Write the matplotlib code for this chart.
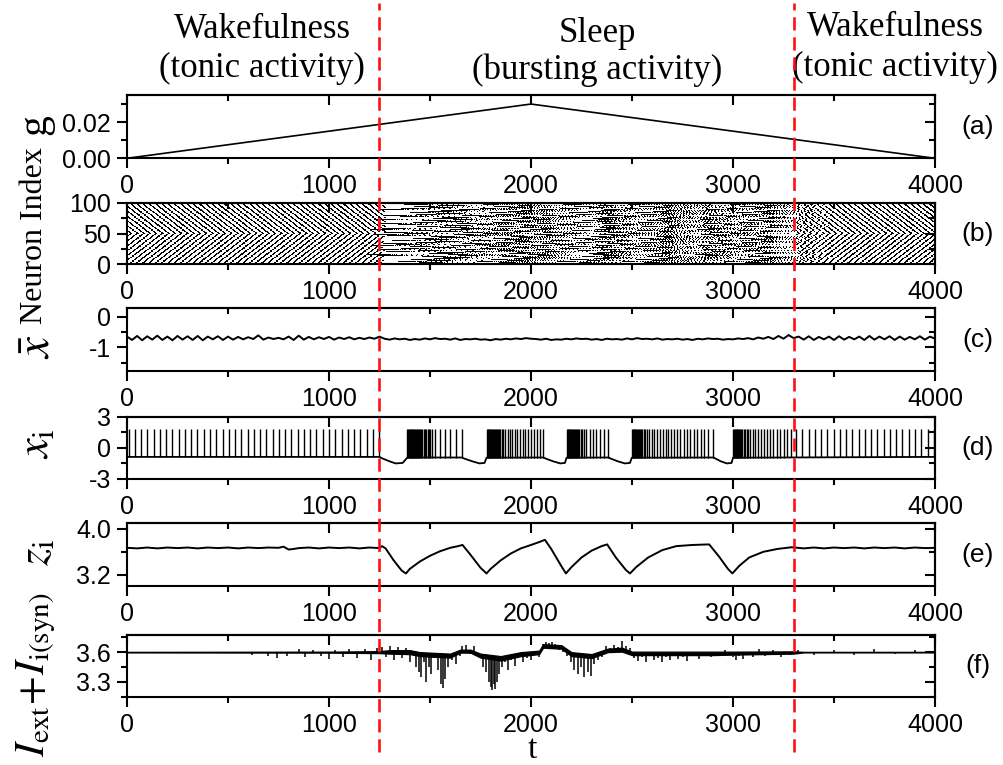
import numpy as np
import matplotlib.pyplot as plt
import matplotlib.transforms as mtransforms
from matplotlib.lines import Line2D
from matplotlib.ticker import MultipleLocator, FormatStrFormatter, NullFormatter

plt.rcParams['font.family'] = ['Liberation Sans', 'DejaVu Sans']
plt.rcParams['mathtext.fontset'] = 'stix'

# ---------------- data ----------------
t_wake_end, t_sleep_end = 1250, 3300

# (a) coupling g
g_t = [0, 2000, 4000]
g_v = [0.0, 0.03, 0.0]

# (d) spike times of neuron i
tonic_early = [-23, 8, 39, 70, 101, 132, 163, 194, 225, 256, 287, 318, 349, 380, 411, 442,
               473, 504, 535, 566, 597, 628, 659, 690, 721, 752, 783, 814, 845, 876, 907,
               938, 969, 1000, 1031, 1062, 1093, 1124, 1155, 1186, 1217, 1246]
burst1 = [1388, 1392, 1396, 1400, 1404, 1408, 1412, 1416, 1420, 1425, 1430, 1435, 1440, 1445,
          1450, 1456, 1462, 1468, 1474, 1481, 1488, 1495, 1502, 1512, 1525, 1550, 1574, 1599,
          1629, 1657]
burst2 = [1782, 1786, 1790, 1794, 1798, 1802, 1806, 1810, 1815, 1820, 1825, 1830, 1836, 1842,
          1848, 1855, 1862, 1872, 1884, 1896, 1908, 1920, 1933, 1946, 1959, 1972, 1986, 2000,
          2015, 2030, 2045, 2060]
burst3 = [2178, 2182, 2186, 2190, 2194, 2198, 2202, 2207, 2212, 2217, 2222, 2228, 2234, 2240,
          2247, 2254, 2262, 2274, 2290, 2305, 2322, 2340, 2360, 2381]
burst4 = [2500, 2504, 2508, 2512, 2516, 2520, 2524, 2529, 2534, 2539, 2545, 2551, 2558, 2565,
          2573, 2585, 2598, 2611, 2624, 2638, 2652, 2666, 2680, 2695, 2710, 2725, 2740, 2756,
          2772, 2788, 2805, 2822, 2840, 2858, 2877, 2900]
burst5 = [3002, 3006, 3010, 3014, 3018, 3022, 3026, 3031, 3036, 3041, 3047, 3053, 3060, 3068,
          3076, 3085, 3097, 3110, 3124, 3138, 3153, 3168, 3184, 3200, 3216, 3233, 3250, 3268,
          3286]
tonic_late = [3312, 3343, 3374, 3405, 3436, 3467, 3498, 3529, 3560, 3591, 3622, 3653, 3684,
              3715, 3746, 3777, 3808, 3839, 3870, 3901, 3932, 3963, 3994, 4025]
spike_peak = 1.8
# trough / hyperpolarisation level of x_i
xi_base_t = [0, 1250, 1262, 1300, 1330, 1365, 1387, 1500, 1657, 1672, 1710, 1745, 1770, 1780,
             2061, 2075, 2110, 2145, 2168, 2176, 2383, 2397, 2430, 2465, 2490, 2499, 2903,
             2915, 2940, 2970, 2993, 3000, 4000]
xi_base_v = [-0.87, -0.87, -1.0, -1.3, -1.5, -1.45, -0.95, -0.93, -0.93, -1.05, -1.3, -1.5,
             -1.45, -0.95, -0.93, -1.05, -1.3, -1.5, -1.45, -0.95, -0.93, -1.05, -1.3, -1.5,
             -1.45, -0.95, -0.93, -1.05, -1.3, -1.5, -1.45, -0.95, -0.87]

# (b) raster: phase of each neuron in tonic state, lag of each neuron in bursting state
wake_phase = [0, 4, 9, 12, 17, 20, 24, 27, 1, 6, 9, 13, 18, 21, 24, 29, 3, 6, 10, 15,
              18, 22, 27, 30, 3, 8, 11, 15, 20, 23, 26, 0, 5, 8, 12, 17, 20, 23, 28, 1,
              5, 10, 13, 16, 21, 25, 28, 2, 7, 10, 6, 1, 29, 24, 21, 18, 13, 9, 6, 1,
              27, 24, 21, 16, 11, 8, 5, 0, 27, 22, 19, 16, 11, 6, 3, 30, 27, 22, 18, 15,
              10, 7, 2, 28, 25, 22, 17, 12, 9, 5, 2, 28, 23, 20, 17, 12, 8, 3, 0, 27]
sleep_lag = [0, -130, 60, 165, -45, 100, -165, 20, 135, -85,
             180, -20, 75, -140, 40, -190, 110, -70, 150, -10,
             -105, 55, 190, -150, 85, -30, 125, -90, 15, -175,
             105, -55, 170, -120, 45, -195, 140, -75, 5, 90,
             -135, 30, 160, -40, 120, -100, 65, -160, 195, -15,
             -115, 60, 135, -60, 25, -180, 95, -125, 165, -5,
             50, -85, 185, -45, 120, -145, 30, -105, 150, -25,
             75, -165, 10, 130, -70, 175, -35, 90, -120, 45,
             -185, 145, -90, 15, 105, -50, 170, -135, 65, -30,
             -150, 110, 35, -75, 155, -15, 80, -170, 0, 135]

# (c) mean field x-bar, sampled every 25 time units
xbar_vals = [-0.65, -0.76, -0.63, -0.77, -0.64, -0.75, -0.62, -0.76, -0.65, -0.77,
             -0.63, -0.75, -0.64, -0.76, -0.63, -0.77, -0.65, -0.74, -0.64, -0.76,
             -0.65, -0.75, -0.66, -0.74, -0.67, -0.73, -0.61, -0.75, -0.68, -0.73,
             -0.69, -0.74, -0.65, -0.76, -0.62, -0.75, -0.66, -0.74, -0.67, -0.73,
             -0.66, -0.75, -0.68, -0.73, -0.67, -0.74, -0.69, -0.73, -0.68, -0.72, -0.65,
             -0.72, -0.75, -0.71, -0.74, -0.72, -0.76, -0.73, -0.75, -0.71, -0.74,
             -0.70, -0.73, -0.72, -0.75, -0.71, -0.76, -0.73, -0.74, -0.72, -0.75,
             -0.74, -0.77, -0.73, -0.75, -0.72, -0.74, -0.71, -0.73, -0.70, -0.72,
             -0.73, -0.75, -0.72, -0.76, -0.74, -0.75, -0.72, -0.74, -0.71, -0.73,
             -0.72, -0.75, -0.73, -0.76, -0.72, -0.74, -0.73, -0.75, -0.71, -0.74,
             -0.70, -0.73, -0.72, -0.74, -0.71, -0.75, -0.73, -0.74, -0.72, -0.75,
             -0.73, -0.76, -0.72, -0.74, -0.71, -0.73, -0.72, -0.75, -0.73, -0.74,
             -0.71, -0.73, -0.70, -0.74, -0.68, -0.72, -0.66, -0.73, -0.63, -0.72,
             -0.60, -0.70,
             -0.65, -0.75, -0.64, -0.76, -0.66, -0.74, -0.65, -0.76, -0.64, -0.75,
             -0.66, -0.74, -0.65, -0.76, -0.63, -0.75, -0.65, -0.74, -0.64, -0.76,
             -0.65, -0.75, -0.66, -0.74, -0.64, -0.75, -0.65, -0.72]

# (e) slow variable z_i
z_t = [0, 50, 100, 150, 200, 250, 300, 350, 400, 450, 500, 550, 600, 650, 700, 750, 775, 800,
       825, 850, 900, 950, 1000, 1050, 1100, 1150, 1200, 1250,
       1262, 1280, 1320, 1360, 1381, 1400, 1450, 1500, 1550, 1600, 1640, 1661,
       1700, 1750, 1780, 1800, 1850, 1900, 1950, 2000, 2040, 2069,
       2100, 2150, 2173, 2200, 2250, 2300, 2350, 2377,
       2420, 2470, 2490, 2520, 2580, 2650, 2720, 2800, 2882,
       2930, 2975, 2997, 3030, 3080, 3150, 3220, 3290,
       3350, 3400, 3450, 3500, 3550, 3600, 3650, 3700, 3750, 3800, 3850, 3900, 3950, 4000]
z_v = [3.67, 3.66, 3.675, 3.66, 3.675, 3.665, 3.675, 3.66, 3.675, 3.665, 3.675, 3.66, 3.675,
       3.665, 3.675, 3.67, 3.69, 3.64, 3.65, 3.665, 3.675, 3.66, 3.675, 3.665, 3.675, 3.66,
       3.675, 3.665,
       3.70, 3.66, 3.45, 3.27, 3.22, 3.30, 3.43, 3.53, 3.61, 3.67, 3.70, 3.72,
       3.55, 3.32, 3.22, 3.30, 3.45, 3.57, 3.66, 3.72, 3.77, 3.81,
       3.65, 3.35, 3.22, 3.33, 3.50, 3.62, 3.70, 3.73,
       3.50, 3.28, 3.22, 3.33, 3.50, 3.63, 3.70, 3.72, 3.73,
       3.52, 3.30, 3.22, 3.35, 3.50, 3.60, 3.65, 3.68,
       3.66, 3.675, 3.66, 3.675, 3.665, 3.675, 3.66, 3.675, 3.665, 3.675, 3.66, 3.675, 3.665,
       3.67]

# (f) total input current: fluctuation band plus deep excursions
f_band_t = [0, 1000, 1250, 1300, 1400, 1450, 1600, 1650, 1700, 1750, 1850, 1950,
            2040, 2060, 2150, 2200, 2300, 2380, 2450, 2500, 2900, 3000, 3300, 3350, 4000]
f_band_hi = [3.603, 3.605, 3.61, 3.62, 3.62, 3.60, 3.585, 3.625, 3.625, 3.585, 3.56, 3.60,
             3.615, 3.68, 3.67, 3.60, 3.58, 3.635, 3.645, 3.605, 3.605, 3.605, 3.608, 3.603,
             3.603]
f_band_lo = [3.597, 3.595, 3.59, 3.585, 3.58, 3.56, 3.545, 3.595, 3.595, 3.545, 3.515, 3.56,
             3.58, 3.645, 3.635, 3.56, 3.54, 3.60, 3.605, 3.57, 3.57, 3.575, 3.585, 3.597,
             3.597]
f_evt_t = [620, 700, 745, 790, 850, 880, 920, 960, 1000, 1030, 1070, 1100, 1140, 1180, 1210, 1240,
           1260, 1280, 1300, 1320, 1340, 1360, 1380, 1400, 1420, 1430, 1445, 1455, 1470, 1480,
           1495, 1505, 1520, 1540, 1555, 1565, 1575, 1590, 1610, 1630, 1650, 1660, 1680, 1700,
           1720, 1740, 1760, 1775, 1790, 1800, 1808, 1815, 1822, 1830, 1840, 1855, 1870, 1885,
           1900, 1920, 1940, 1960, 1980, 2000, 2020, 2040, 2060, 2075, 2090, 2105, 2120, 2140,
           2160, 2180, 2200, 2215, 2235, 2250, 2262, 2280, 2295, 2310, 2330, 2350, 2370, 2390,
           2410, 2430, 2450, 2470, 2490, 2510, 2530, 2550, 2570, 2590, 2610, 2630, 2650, 2670,
           2690, 2710, 2730, 2750, 2770, 2800, 2830, 2860, 2890, 2920, 2960, 3000, 3015, 3030,
           3050, 3070, 3100, 3130, 3160, 3200, 3240, 3280, 3320, 3400, 3500, 3600, 3700, 3800,
           3900]
f_evt_v = [3.57, 3.56, 3.54, 3.56, 3.63, 3.55, 3.62, 3.56, 3.53, 3.62, 3.55, 3.63, 3.54, 3.63,
           3.52, 3.64,
           3.65, 3.55, 3.66, 3.52, 3.65, 3.54, 3.64, 3.50, 3.58, 3.45, 3.40, 3.35, 3.50, 3.30,
           3.45, 3.38, 3.55, 3.42, 3.28, 3.24, 3.33, 3.45, 3.52, 3.48, 3.56, 3.66, 3.67, 3.58,
           3.66, 3.55, 3.45, 3.40, 3.30, 3.25, 3.22, 3.28, 3.23, 3.30, 3.38, 3.45, 3.50, 3.42,
           3.52, 3.46, 3.55, 3.50, 3.54, 3.52, 3.57, 3.55, 3.68, 3.70, 3.69, 3.70, 3.68, 3.62,
           3.60, 3.56, 3.50, 3.42, 3.38, 3.45, 3.35, 3.40, 3.36, 3.48, 3.52, 3.55, 3.66, 3.64,
           3.67, 3.65, 3.71, 3.66, 3.64, 3.54, 3.51, 3.55, 3.50, 3.56, 3.52, 3.54, 3.50, 3.55,
           3.52, 3.56, 3.53, 3.55, 3.51, 3.56, 3.53, 3.57, 3.55, 3.58, 3.62, 3.55, 3.52, 3.56,
           3.53, 3.57, 3.55, 3.63, 3.56, 3.62, 3.55, 3.57, 3.62, 3.57, 3.62, 3.57, 3.63, 3.58,
           3.62]

panel_tags = ['(a)', '(b)', '(c)', '(d)', '(e)', '(f)']

# ---------------- figure ----------------
W, H = 1004., 765.
fig = plt.figure(figsize=(W / 100, H / 100), dpi=100)

boxes = [(95, 158.3), (203, 264.3), (308.3, 370.7), (416.7, 479), (523.3, 586), (635.3, 696.7)]
axes = [fig.add_axes([127 / W, 1 - bot / H, 808 / W, (bot - top) / H]) for top, bot in boxes]

xt = [0, 1000, 2000, 3000, 4000]


def style(ax, ymaj, ymin, ylim, fmt):
    ax.set_xlim(0, 4000)
    ax.set_ylim(*ylim)
    ax.set_xticks(xt)
    ax.xaxis.set_minor_locator(MultipleLocator(500))
    ax.set_yticks(ymaj)
    ax.set_yticks(ymin, minor=True)
    ax.yaxis.set_major_formatter(FormatStrFormatter(fmt))
    ax.tick_params(which='both', direction='out', top=False, right=False,
                   labelsize=18, width=1.5, pad=4)
    ax.tick_params(which='major', length=7.5)
    ax.tick_params(which='minor', length=4)
    for s in ax.spines.values():
        s.set_linewidth(1.5)
    # mirrored ticks pointing inward on top and right
    sx = ax.secondary_xaxis('top')
    sx.set_xticks(xt)
    sx.xaxis.set_minor_locator(MultipleLocator(500))
    sx.xaxis.set_major_formatter(NullFormatter())
    sx.tick_params(which='both', direction='in', width=1.5)
    sx.tick_params(which='major', length=7.5)
    sx.tick_params(which='minor', length=4)
    sx.spines['top'].set_linewidth(1.5)
    sy = ax.secondary_yaxis('right')
    sy.set_yticks(ymaj)
    sy.set_yticks(ymin, minor=True)
    sy.yaxis.set_major_formatter(NullFormatter())
    sy.tick_params(which='both', direction='in', width=1.5)
    sy.tick_params(which='major', length=7.5)
    sy.tick_params(which='minor', length=4)
    sy.spines['right'].set_linewidth(1.5)


# (a)
ax = axes[0]
ax.plot(g_t, g_v, color='k', lw=1.2)
style(ax, [0.0, 0.02], [0.01, 0.03], (0, 0.035), '%.2f')

# (b) raster, drawn as a spike-occupancy image (neuron x time bin)
bursts = np.array(burst1 + burst2 + burst3 + burst4 + burst5, float)
te = np.array(tonic_early, float)
tl = np.array(tonic_late, float)
nbins = 1616
dt_bin = 4000.0 / nbins
raster = np.zeros((100, nbins))


def mark(row, times, width):
    for t0 in times:
        i0 = int(np.floor(t0 / dt_bin))
        i1 = int(np.ceil((t0 + width) / dt_bin))
        i0, i1 = max(i0, 0), min(i1, nbins)
        if i1 > i0:
            raster[row, i0:i1] = 1


for n in range(100):
    e = te + wake_phase[n]
    e = e[e < t_wake_end + max(sleep_lag[n], 0)]
    l = tl + wake_phase[n]
    l = l[l > t_sleep_end + sleep_lag[n]]
    mark(n, np.concatenate([e, l]), 8)
    mark(n, bursts + sleep_lag[n], 4)

ax = axes[1]
ax.imshow(raster, aspect='auto', origin='lower', extent=(0, 4000, 0, 100),
          cmap='gray_r', vmin=0, vmax=1, interpolation='nearest')
style(ax, [0, 50, 100], [25, 75], (0, 100), '%d')

# (c)
ax = axes[2]
xbar_t = np.linspace(0, 4000, len(xbar_vals))
ax.plot(xbar_t, xbar_vals, color='k', lw=1.4)
style(ax, [0, -1], [-0.5, -1.5], (-1.76, 0.27), '%d')

# (d)
ax = axes[3]
spk = np.concatenate([te, bursts, tl])
spk = spk[(spk >= 0) & (spk <= 4000)]
ax.plot(xi_base_t, xi_base_v, color='k', lw=1.3)
ax.vlines(spk, np.interp(spk, xi_base_t, xi_base_v), spike_peak, color='k', lw=1.0)
style(ax, [3, 0, -3], [1.5, -1.5], (-3, 3), '%d')

# (e)
ax = axes[4]
ax.plot(z_t, z_v, color='k', lw=1.4)
style(ax, [3.2, 4.0], [3.6], (3.0, 4.1), '%.1f')

# (f)
ax = axes[5]
ax.fill_between(f_band_t, f_band_lo, f_band_hi, color='k', lw=0.9)
ax.vlines(f_evt_t, np.interp(f_evt_t, f_band_t, f_band_lo), f_evt_v, color='k', lw=1.1)
style(ax, [3.3, 3.6], [3.15, 3.45, 3.75], (3.15, 3.77), '%.1f')

# panel tags
for (top, bot), tag in zip(boxes, panel_tags):
    fig.text(978 / W, 1 - (top + bot) / 2 / H, tag, ha='center', va='center', fontsize=19)

# y labels
serif = ['Liberation Serif', 'DejaVu Serif']
fig.text(35 / W, 1 - 125 / H, 'g', rotation=90, ha='center', va='center', fontsize=30, family=serif)
fig.text(35 / W, 1 - 236 / H, 'Neuron Index', rotation=90, ha='center', va='center',
         fontsize=23, family=serif)
fig.text(37 / W, 1 - 347 / H, r'$\bar{x}$', rotation=90, ha='center', va='center', fontsize=34)
fig.text(37 / W, 1 - 444 / H, r'$x_{\mathrm{i}}$', rotation=90, ha='center', va='center', fontsize=32)
fig.text(37 / W, 1 - 552 / H, r'$z_{\mathrm{i}}$', rotation=90, ha='center', va='center', fontsize=32)
fig.text(36 / W, 1 - 675 / H, r'$I_{\mathrm{ext}}\!+\!I_{\mathrm{i(syn)}}$', rotation=90,
         ha='center', va='center', fontsize=30)
fig.text(532 / W, 1 - 765 / H, 't', ha='center', va='bottom', fontsize=24, family=serif)

# state headers
hdr = dict(ha='center', va='center', fontsize=25, family=serif)
fig.text(262 / W, 1 - 30 / H, 'Wakefulness', **hdr)
fig.text(262 / W, 1 - 68 / H, '(tonic activity)', **hdr)
fig.text(597 / W, 1 - 33 / H, 'Sleep', **hdr)
fig.text(597 / W, 1 - 70 / H, '(bursting activity)', **hdr)
fig.text(895 / W, 1 - 28 / H, 'Wakefulness', **hdr)
fig.text(895 / W, 1 - 67 / H, '(tonic activity)', **hdr)

# transition markers across all panels
tr = mtransforms.blended_transform_factory(axes[0].transData, fig.transFigure)
for tx in (t_wake_end, t_sleep_end):
    fig.add_artist(Line2D([tx, tx], [1 - 752 / H, 1 - 3 / H], transform=tr, color='#ff1010',
                          lw=1.9, ls=(0, (5, 2.6)), zorder=20))

fig.savefig('out.png', dpi=100)
